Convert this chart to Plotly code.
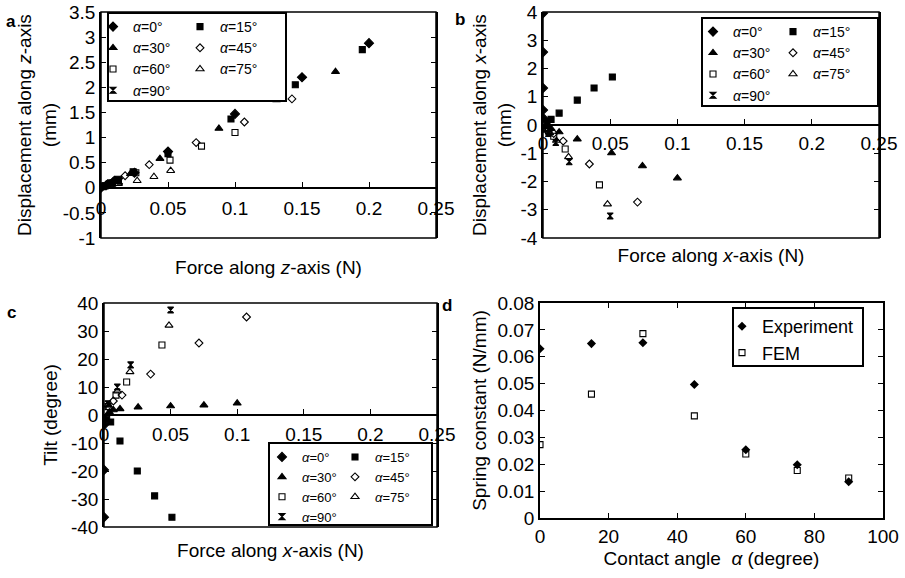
import plotly.graph_objects as go

# ---------------- data ----------------
angle_labels = ["0", "15", "30", "45", "60", "75", "90"]

# Panel a: force along z (N) -> displacement along z (mm)
a_f_00 = [0.0, 0.005, 0.01, 0.025, 0.05, 0.1, 0.15, 0.2]
a_d_00 = [0.0, 0.07, 0.14, 0.3, 0.72, 1.47, 2.2, 2.88]
a_f_15 = [0.003, 0.008, 0.013, 0.024, 0.05, 0.097, 0.145, 0.195]
a_d_15 = [0.04, 0.1, 0.17, 0.32, 0.68, 1.37, 2.05, 2.75]
a_f_30 = [0.004, 0.011, 0.022, 0.044, 0.088, 0.131, 0.175]
a_d_30 = [0.05, 0.14, 0.28, 0.58, 1.18, 1.75, 2.31]
a_f_45 = [0.004, 0.009, 0.018, 0.036, 0.071, 0.107, 0.1425]
a_d_45 = [0.06, 0.12, 0.24, 0.46, 0.9, 1.31, 1.77]
a_f_60 = [0.003, 0.006, 0.013, 0.026, 0.0515, 0.075, 0.1]
a_d_60 = [0.04, 0.07, 0.15, 0.3, 0.55, 0.83, 1.1]
a_f_75 = [0.003, 0.007, 0.013, 0.027, 0.0395, 0.052]
a_d_75 = [0.02, 0.05, 0.08, 0.14, 0.22, 0.34]
a_f_90 = [0.002, 0.005, 0.009, 0.014]
a_d_90 = [0.02, 0.05, 0.09, 0.13]

# Panel b: force along x (N) -> displacement along x (mm)
b_f_00 = [0.0, 0.0, 0.0, 0.0, 0.0]
b_d_00 = [0.25, 0.53, 1.31, 2.58, 3.96]
b_f_15 = [0.003, 0.006, 0.012, 0.0255, 0.038, 0.0516]
b_d_15 = [0.12, 0.2, 0.42, 0.88, 1.31, 1.7]
b_f_30 = [0.003, 0.006, 0.012, 0.0255, 0.051, 0.074, 0.1]
b_d_30 = [-0.06, -0.13, -0.25, -0.5, -0.99, -1.45, -1.88]
b_f_45 = [0.004, 0.008, 0.015, 0.0345, 0.0703]
b_d_45 = [-0.15, -0.3, -0.57, -1.38, -2.73]
b_f_60 = [0.002, 0.004, 0.008, 0.0165, 0.042]
b_d_60 = [-0.1, -0.2, -0.4, -0.85, -2.12]
b_f_75 = [0.0025, 0.005, 0.01, 0.019, 0.048]
b_d_75 = [-0.14, -0.28, -0.55, -1.13, -2.8]
b_f_90 = [0.002, 0.004, 0.0095, 0.0195, 0.05]
b_d_90 = [-0.15, -0.3, -0.62, -1.3, -3.22]

# Panel c: force along x (N) -> tilt (degree)
c_f_00 = [0.0, 0.0, 0.0, 0.0]
c_d_00 = [-1.5, -3.5, -19.6, -36.5]
c_f_15 = [0.002, 0.005, 0.012, 0.025, 0.038, 0.051]
c_d_15 = [-1.5, -2.5, -9.3, -20.0, -28.9, -36.5]
c_f_30 = [0.004, 0.007, 0.012, 0.0256, 0.05, 0.075, 0.1]
c_d_30 = [1.0, 1.8, 2.2, 2.8, 3.2, 3.5, 4.2]
c_f_45 = [0.004, 0.007, 0.0135, 0.035, 0.0713, 0.107]
c_d_45 = [2.5, 5.0, 7.1, 14.6, 25.7, 35.0]
c_f_60 = [0.003, 0.009, 0.017, 0.0435]
c_d_60 = [3.0, 7.1, 11.8, 25.0]
c_f_75 = [0.003, 0.01, 0.0195, 0.0488]
c_d_75 = [3.5, 8.5, 15.4, 32.0]
c_f_90 = [0.003, 0.01, 0.02, 0.05]
c_d_90 = [4.0, 10.0, 17.9, 37.5]

# Panel d: spring constant (N/mm) vs contact angle
d_angle = [0, 15, 30, 45, 60, 75, 90]
d_experiment = [0.063, 0.0649, 0.0652, 0.0497, 0.0254, 0.0198, 0.0135]
d_fem = [0.0273, 0.0461, 0.0686, 0.0380, 0.0238, 0.0177, 0.0149]

# tick labels
force_ticks = ["0", "0.05", "0.1", "0.15", "0.2", "0.25"]
a_yticks = ["-1", "-0.5", "0", "0.5", "1", "1.5", "2", "2.5", "3", "3.5"]
b_yticks = ["-4", "-3", "-2", "-1", "0", "1", "2", "3", "4"]
c_yticks = ["-40", "-30", "-20", "-10", "0", "10", "20", "30", "40"]
d_xticks = ["0", "20", "40", "60", "80", "100"]
d_yticks = ["0", "0.01", "0.02", "0.03", "0.04", "0.05", "0.06", "0.07", "0.08"]

# ---------------- style / layout helpers ----------------
W, H = 905, 578
FONT = "Arial, Liberation Sans, sans-serif"
SYMBOLS = ["diamond", "square", "triangle-up", "diamond-open",
           "square-open", "triangle-up-open", "hourglass"]
SIZES = [7, 6, 7, 6, 6, 7, 6]


def px(x):
    return x / W


def py(y):
    return 1 - y / H


def vals(labels):
    return [float(t) for t in labels]


fig = go.Figure()

panels = [
    ("x", "y", [(a_f_00, a_d_00), (a_f_15, a_d_15), (a_f_30, a_d_30), (a_f_45, a_d_45),
                (a_f_60, a_d_60), (a_f_75, a_d_75), (a_f_90, a_d_90)], ("legend", "legend2")),
    ("x2", "y2", [(b_f_00, b_d_00), (b_f_15, b_d_15), (b_f_30, b_d_30), (b_f_45, b_d_45),
                  (b_f_60, b_d_60), (b_f_75, b_d_75), (b_f_90, b_d_90)], ("legend3", "legend4")),
    ("x3", "y3", [(c_f_00, c_d_00), (c_f_15, c_d_15), (c_f_30, c_d_30), (c_f_45, c_d_45),
                  (c_f_60, c_d_60), (c_f_75, c_d_75), (c_f_90, c_d_90)], ("legend5", "legend6")),
]

for xa, ya, series, legs in panels:
    for i, (fx, dy) in enumerate(series):
        fig.add_trace(go.Scatter(
            x=fx, y=dy, mode="markers", xaxis=xa, yaxis=ya,
            name="<i>α</i>=" + angle_labels[i] + "°",
            legend=legs[i % 2],
            marker=dict(symbol=SYMBOLS[i], size=SIZES[i], color="black",
                        line=dict(color="black", width=1.1)),
        ))

fig.add_trace(go.Scatter(x=d_angle, y=d_experiment, mode="markers", xaxis="x4", yaxis="y4",
                         name="Experiment", legend="legend7",
                         marker=dict(symbol="diamond", size=7, color="black")))
fig.add_trace(go.Scatter(x=d_angle, y=d_fem, mode="markers", xaxis="x4", yaxis="y4",
                         name="FEM", legend="legend7",
                         marker=dict(symbol="square-open", size=6, color="black",
                                     line=dict(color="black", width=1.1))))

tickfont = dict(family=FONT, size=19, color="black")
titlefont = dict(family=FONT, size=19, color="black")
common = dict(showline=True, linecolor="black", linewidth=1.5, mirror="ticks",
              ticks="inside", ticklen=5, tickwidth=1, tickcolor="black",
              showgrid=False, zeroline=False, tickfont=tickfont, automargin=False)

# domains (pixel boxes)
dom = {
    "a": ((101, 436), (12, 238)),
    "b": ((543, 879), (12, 238)),
    "c": ((104, 437), (303, 527)),
    "d": ((540, 883), (303, 518)),
}


def xd(k):
    return [px(dom[k][0][0]), px(dom[k][0][1])]


def yd(k):
    return [py(dom[k][1][1]), py(dom[k][1][0])]


def zero_pos(k, lo, hi):
    y0, y1 = yd(k)
    return y0 + (0 - lo) / (hi - lo) * (y1 - y0)


a_rng, b_rng, c_rng = [-1, 3.5], [-4, 4], [-40, 40]


def zero_xaxis(k, yrng, title, standoff, lstand):
    # x axis drawn along the y = 0 line (MATLAB-like axes through the origin)
    return dict(domain=xd(k), anchor="free", position=zero_pos(k, *yrng), range=[0, 0.25],
                showline=True, linecolor="black", linewidth=2,
                ticks="inside", ticklen=5, tickwidth=1, tickcolor="black",
                showgrid=False, zeroline=False, tickfont=tickfont, automargin=False,
                tickvals=vals(force_ticks), ticktext=force_ticks, ticklabelstandoff=lstand,
                title=dict(text=title, font=titlefont, standoff=standoff))


layout = dict(
    width=W, height=H, margin=dict(l=0, r=0, t=0, b=0),
    paper_bgcolor="white", plot_bgcolor="white", font=dict(family=FONT, color="black"),
    # panel a
    xaxis=zero_xaxis("a", a_rng, "Force along <i>z</i>-axis (N)", 42, 3),
    yaxis=dict(common, domain=yd("a"), anchor="x", range=a_rng,
               tickvals=vals(a_yticks), ticktext=a_yticks,
               title=dict(text="Displacement along <i>z</i>-axis<br>(mm)", font=titlefont, standoff=1)),
    # panel b
    xaxis2=zero_xaxis("b", b_rng, "Force along <i>x</i>-axis (N)", 95, 1),
    yaxis2=dict(common, domain=yd("b"), anchor="x2", range=b_rng,
                tickvals=vals(b_yticks), ticktext=b_yticks,
                title=dict(text="Displacement along <i>x</i>-axis<br>(mm)", font=titlefont, standoff=4)),
    # panel c
    xaxis3=zero_xaxis("c", c_rng, "Force along <i>x</i>-axis (N)", 99, 2),
    yaxis3=dict(common, domain=yd("c"), anchor="x3", range=c_rng,
                tickvals=vals(c_yticks), ticktext=c_yticks,
                title=dict(text="Tilt (degree)", font=titlefont, standoff=8)),
    # panel d
    xaxis4=dict(common, domain=xd("d"), anchor="y4", range=[0, 100],
                tickvals=vals(d_xticks), ticktext=d_xticks,
                title=dict(text="Contact angle  <i>α</i> (degree)", font=titlefont, standoff=6)),
    yaxis4=dict(common, domain=yd("d"), anchor="x4", range=[0, 0.08],
                tickvals=vals(d_yticks), ticktext=d_yticks,
                title=dict(text="Spring constant (N/mm)", font=titlefont, standoff=6)),
)

leg_common = dict(bgcolor="rgba(0,0,0,0)", borderwidth=0, xanchor="left", yanchor="top",
                  orientation="v", traceorder="normal", itemclick=False)
lf_a = dict(family=FONT, size=14, color="black")
lf_b = dict(family=FONT, size=14, color="black")
lf_c = dict(family=FONT, size=13, color="black")
layout.update(
    legend=dict(leg_common, x=px(93), y=py(11), font=lf_a),
    legend2=dict(leg_common, x=px(180), y=py(11), font=lf_a),
    legend3=dict(leg_common, x=px(693), y=py(16), font=lf_b),
    legend4=dict(leg_common, x=px(773), y=py(16), font=lf_b),
    legend5=dict(leg_common, x=px(262), y=py(442), font=lf_c),
    legend6=dict(leg_common, x=px(335), y=py(442), font=lf_c),
    legend7=dict(leg_common, x=px(722), y=py(308), font=dict(family=FONT, size=18, color="black")),
)

shapes = []
# plot frames (box around each axes area)
for xr, yr in [("x", "y"), ("x2", "y2"), ("x3", "y3")]:
    shapes.append(dict(type="rect", xref=xr + " domain", yref=yr + " domain",
                       x0=0, x1=1, y0=0, y1=1, line=dict(color="black", width=1.5),
                       fillcolor="rgba(0,0,0,0)", layer="above"))
# legend frames
frames = [((108, 13), (286, 101)), ((702, 18), (878, 106)),
          ((269, 443), (432, 525)), ((733, 308), (863, 366))]
for (x0, y0), (x1, y1) in frames:
    shapes.append(dict(type="rect", xref="paper", yref="paper",
                       x0=px(x0), x1=px(x1), y0=py(y1), y1=py(y0),
                       line=dict(color="black", width=2), fillcolor="white", layer="above"))
layout["shapes"] = shapes

# panel letters
letters = [("a", 11, 21), ("b", 460, 20), ("c", 11, 312), ("d", 447, 305)]
layout["annotations"] = [
    dict(text="<b>%s</b>" % t, x=px(x), y=py(y), xref="paper", yref="paper",
         showarrow=False, xanchor="center", yanchor="middle",
         font=dict(family=FONT, size=17, color="black"))
    for t, x, y in letters
]

fig.update_layout(**layout)
fig.write_html("out.html")
